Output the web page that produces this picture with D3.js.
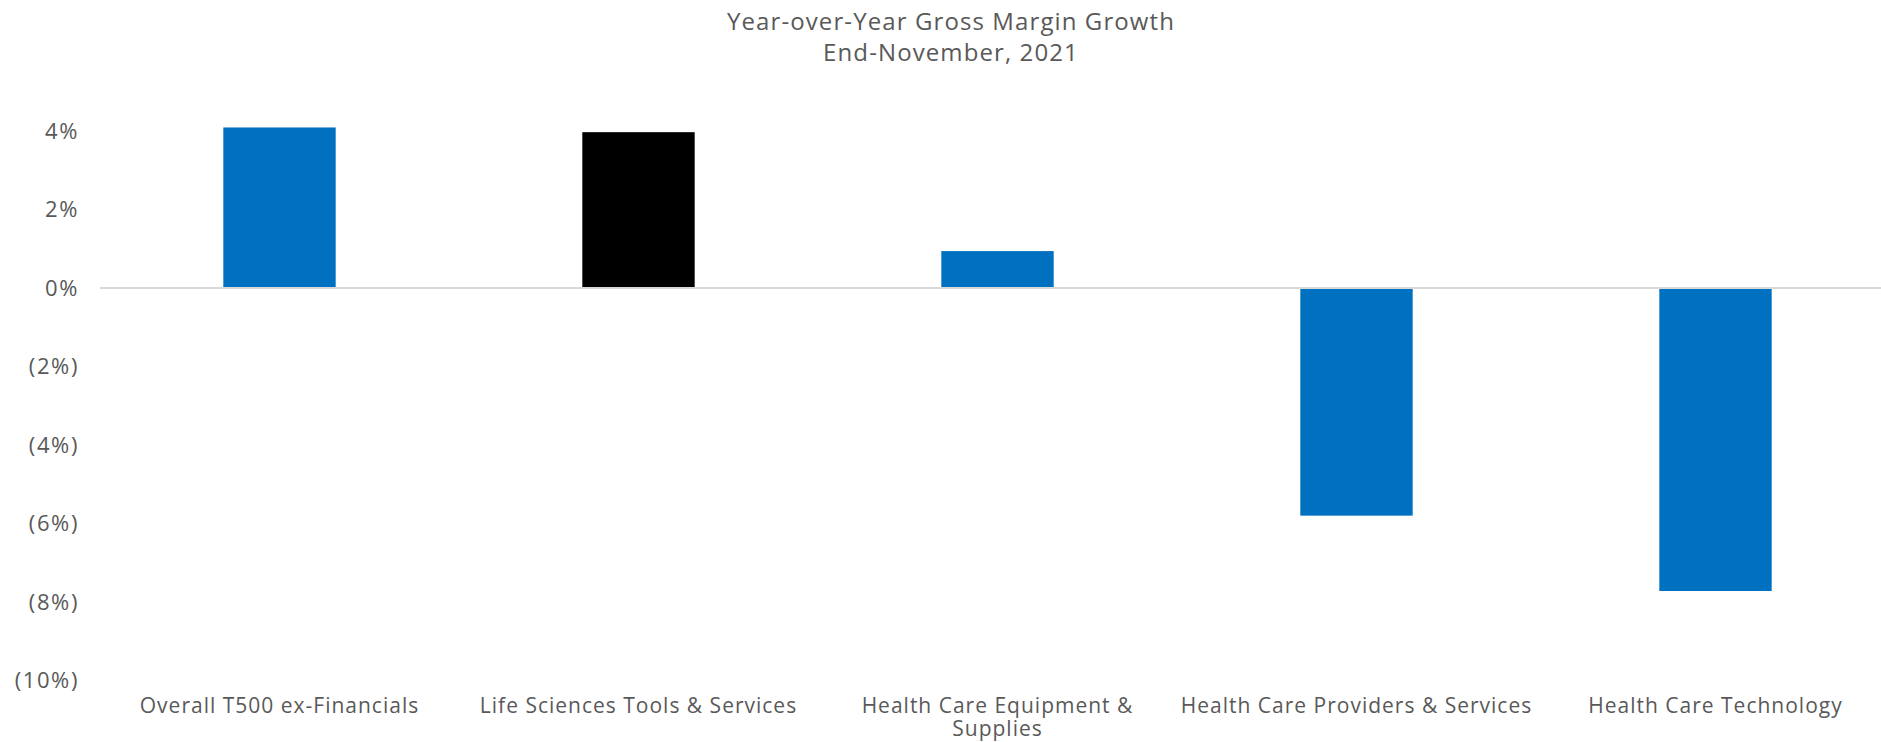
<!DOCTYPE html>
<html>
<head>
<meta charset="utf-8">
<script src="https://d3js.org/d3.v7.min.js"></script>
<style>
body {margin: 0; background: #fff;}
svg text {font-family: "Open Sans", sans-serif; fill: #595959;}
.title {font-size: 24px; letter-spacing: 1.1px; text-anchor: middle;}
.tick text {font-size: 22px; letter-spacing: 1.6px;}
.xlab {font-size: 21px; letter-spacing: 1px; text-anchor: middle;}
</style>
</head>
<body>
<svg width="1881" height="742"></svg>
<script>
var categories = ["Overall T500 ex-Financials", "Life Sciences Tools & Services",
  "Health Care Equipment & Supplies", "Health Care Providers & Services", "Health Care Technology"];
var values = [4.09, 3.97, 0.94, -5.80, -7.72];
var barColors = ["#0070c0", "#000000", "#0070c0", "#0070c0", "#0070c0"];
var yTicks = [4, 2, 0, -2, -4, -6, -8, -10];
var titleLines = ["Year-over-Year Gross Margin Growth", "End-November, 2021"];

var svg = d3.select("svg"),
    width = +svg.attr("width"),
    height = +svg.attr("height");

var x = d3.scaleBand()
  .domain(categories)
  .range([100, 1895])
  .paddingInner(0.687)
  .paddingOuter(0.3435);

var y = d3.scaleLinear()
  .domain([-10, 4])
  .range([680.5, 131]);

// title
svg.append("g").selectAll("text")
  .data(titleLines)
  .enter().append("text")
  .attr("class", "title")
  .attr("x", 951)
  .attr("y", function(d, i) { return 30 + i * 30.5; })
  .text(function(d) { return d; });

// y axis labels only
var fmt = function(d) {
  if (d < 0) return "(" + Math.abs(d) + "%)";
  return d + "%";
};
var yAxis = svg.append("g")
  .attr("transform", "translate(79,0)")
  .call(d3.axisLeft(y).tickValues(yTicks).tickFormat(fmt).tickSize(0).tickPadding(0));
yAxis.select(".domain").remove();

// bars
svg.append("g").selectAll("rect")
  .data(values)
  .enter().append("rect")
  .attr("x", function(d, i) { return x(categories[i]); })
  .attr("width", x.bandwidth())
  .attr("y", function(d) { return y(Math.max(0, d)); })
  .attr("height", function(d) { return Math.abs(y(d) - y(0)); })
  .attr("fill", function(d, i) { return barColors[i]; });

// zero line
svg.append("line")
  .attr("x1", 100).attr("x2", width)
  .attr("y1", y(0)).attr("y2", y(0))
  .attr("stroke", "#d9d9d9")
  .attr("stroke-width", 2);

// category labels, wrapped when wider than a band step
var maxW = x.step() - 3;
svg.append("g").selectAll("text")
  .data(categories)
  .enter().append("text")
  .attr("class", "xlab")
  .attr("x", function(d) { return x(d) + x.bandwidth() / 2; })
  .attr("y", 713)
  .each(function(d) {
    var t = d3.select(this);
    var words = d.split(" "), line = [];
    var tspan = t.append("tspan").attr("x", t.attr("x")).attr("dy", 0);
    words.forEach(function(w) {
      line.push(w);
      tspan.text(line.join(" "));
      if (tspan.node().getComputedTextLength() > maxW && line.length > 1) {
        line.pop();
        tspan.text(line.join(" "));
        line = [w];
        tspan = t.append("tspan").attr("x", t.attr("x")).attr("dy", 23).text(w);
      }
    });
  });
</script>
</body>
</html>
